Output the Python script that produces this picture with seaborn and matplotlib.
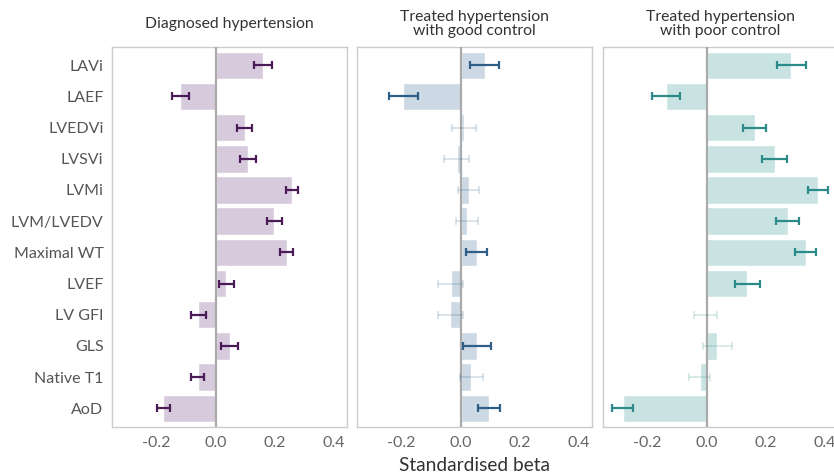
import numpy as np
import pandas as pd
import matplotlib
matplotlib.use("Agg")
import matplotlib.pyplot as plt
import seaborn as sns

sns.set_theme(style="white")
plt.rcParams['font.family'] = ['Lato', 'DejaVu Sans']

measures = ["LAVi", "LAEF", "LVEDVi", "LVSVi", "LVMi", "LVM/LVEDV", "Maximal WT",
            "LVEF", "LV GFI", "GLS", "Native T1", "AoD"]

# Diagnosed hypertension
diag_beta = [0.160, -0.119, 0.100, 0.110, 0.259, 0.199, 0.241, 0.036, -0.059, 0.048, -0.061, -0.178]
diag_lo = [0.130, -0.149, 0.074, 0.084, 0.238, 0.176, 0.217, 0.010, -0.083, 0.018, -0.083, -0.198]
diag_hi = [0.190, -0.089, 0.125, 0.138, 0.281, 0.225, 0.264, 0.063, -0.034, 0.077, -0.040, -0.155]

# Treated hypertension with good control
good_beta = [0.082, -0.196, 0.013, -0.013, 0.028, 0.023, 0.055, -0.032, -0.035, 0.055, 0.036, 0.096]
good_lo = [0.031, -0.241, -0.028, -0.056, -0.007, -0.016, 0.020, -0.077, -0.077, 0.008, -0.003, 0.061]
good_hi = [0.132, -0.145, 0.054, 0.030, 0.063, 0.060, 0.090, 0.010, 0.007, 0.105, 0.075, 0.135]

# Treated hypertension with poor control
poor_beta = [0.288, -0.136, 0.164, 0.232, 0.377, 0.275, 0.336, 0.137, -0.003, 0.036, -0.023, -0.282]
poor_lo = [0.240, -0.186, 0.124, 0.188, 0.344, 0.235, 0.301, 0.096, -0.043, -0.011, -0.059, -0.319]
poor_hi = [0.339, -0.091, 0.203, 0.274, 0.411, 0.313, 0.372, 0.181, 0.037, 0.086, 0.012, -0.249]

panels = [
    ("Diagnosed hypertension", diag_beta, diag_lo, diag_hi, "#d6cadc", "#4b1b57"),
    ("Treated hypertension\nwith good control", good_beta, good_lo, good_hi, "#ccd9e4", "#2f5f88"),
    ("Treated hypertension\nwith poor control", poor_beta, poor_lo, poor_hi, "#c9e3e3", "#2a8b88"),
]

fig = plt.figure(figsize=(8.34, 4.76), dpi=100)
lefts = [0.134, 0.4277, 0.7227]

for i, (title, beta, lo, hi, barcol, errcol) in enumerate(panels):
    ax = fig.add_axes([lefts[i], 0.1036, 0.2818, 0.798])
    df = pd.DataFrame({"measure": measures, "beta": beta, "lo": lo, "hi": hi})
    sns.barplot(data=df, x="beta", y="measure", orient="h", color=barcol,
                saturation=1, width=0.88, errorbar=None, ax=ax)
    ax.axvline(0, color="#aaaaaa", lw=1.6, zorder=3)
    ypos = np.arange(len(measures))
    for j in range(len(measures)):
        sig = not (df.lo[j] < 0 < df.hi[j])
        ax.errorbar(df.beta[j], ypos[j],
                    xerr=[[df.beta[j] - df.lo[j]], [df.hi[j] - df.beta[j]]],
                    fmt="none", ecolor=errcol, alpha=1.0 if sig else 0.2,
                    elinewidth=1.6 if sig else 1.2, capsize=3,
                    capthick=1.6 if sig else 1.2, zorder=4)
    ax.set_xlim(-0.352, 0.445)
    ax.set_ylim(11.59, -0.59)
    ax.set_xticks([-0.2, 0.0, 0.2, 0.4])
    ax.set_xticklabels(["-0.2", "0.0", "0.2", "0.4"])
    ax.set_xlabel("")
    ax.set_ylabel("")
    # title centred vertically in the band above the panel
    fig.text(lefts[i] + 0.2818 / 2, 0.950, title, ha="center", va="center",
             fontsize=11.3, color="#333333", linespacing=1.05)
    for s in ax.spines.values():
        s.set_color("#cccccc")
        s.set_linewidth(1)
    ax.tick_params(axis="x", labelsize=11.5, labelcolor="#666666", length=3,
                   width=0.8, color="#cccccc", pad=4)
    if i == 0:
        ax.tick_params(axis="y", labelsize=11.5, labelcolor="#555555", length=0, pad=6)
    else:
        ax.set_yticklabels([])
        ax.tick_params(axis="y", length=0)

fig.text(0.569, 0.004, "Standardised beta", ha="center", va="bottom",
         fontsize=13.8, color="#333333")

fig.savefig("out.png", dpi=100)
